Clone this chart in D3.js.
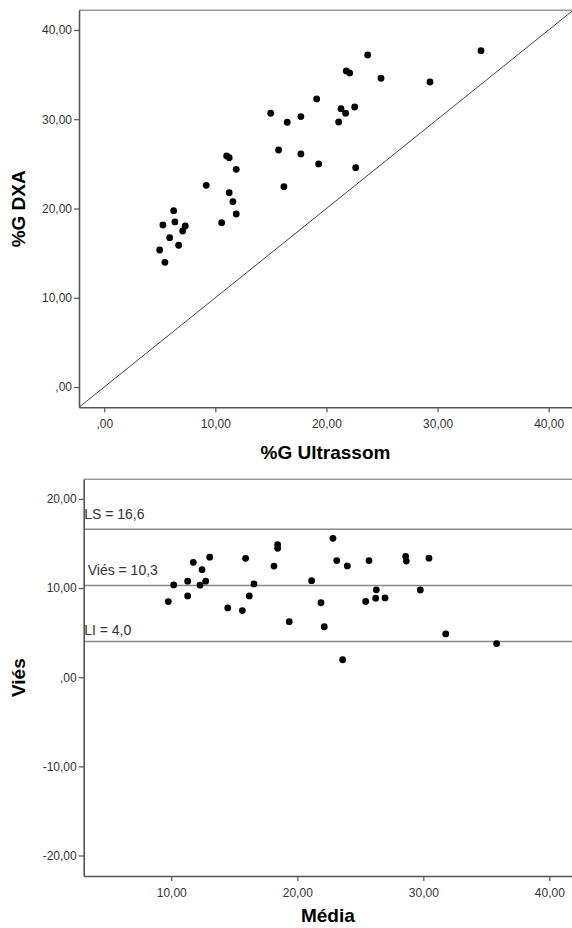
<!DOCTYPE html>
<html>
<head>
<meta charset="utf-8">
<script src="https://cdn.jsdelivr.net/npm/d3@7"></script>
<style>
  body { margin: 0; background: #fff; }
  svg text { font-family: "Liberation Sans", Arial, sans-serif; }
</style>
</head>
<body>
<div id="canvas"></div>
<script>
// %G Ultrassom vs %G DXA (top scatter)
const ultrassom = [14.98, 16.47, 15.69, 16.17, 11.02, 11.25, 11.88, 9.18, 11.25, 11.58, 11.88, 10.57,
  6.25, 5.28, 6.36, 7.29, 7.06, 5.89, 4.99, 6.70, 5.46, 23.71, 33.91, 21.78, 22.09, 24.91, 29.32,
  19.12, 21.31, 21.73, 22.54, 21.10, 17.70, 17.70, 19.30, 22.63];
const dxa = [30.67, 29.66, 26.55, 22.44, 25.88, 25.69, 24.39, 22.60, 21.77, 20.76, 19.38, 18.41,
  19.75, 18.15, 18.49, 18.04, 17.48, 16.73, 15.35, 15.88, 13.97, 37.20, 37.68, 35.41, 35.18, 34.59, 34.17,
  32.27, 31.18, 30.67, 31.37, 29.69, 30.29, 26.11, 24.99, 24.57];

// Bland-Altman (bottom scatter)
const media = [9.76, 10.19, 11.30, 11.30, 11.75, 12.44, 12.28, 12.73, 13.05, 14.48, 15.64, 15.90,
  16.19, 16.56, 18.15, 18.44, 18.44, 19.36, 21.14, 21.88, 22.14, 22.83, 23.13, 23.97, 23.60, 25.69,
  25.43, 26.22, 26.27, 26.96, 28.60, 28.65, 29.76, 30.45, 31.78, 35.82];
const vies = [8.48, 10.35, 10.77, 9.12, 12.89, 12.06, 10.32, 10.77, 13.46, 7.77, 7.47, 13.34,
  9.12, 10.46, 12.47, 14.86, 14.46, 6.23, 10.83, 8.35, 5.66, 15.58, 13.08, 12.48, 1.96, 13.08,
  8.49, 8.86, 9.80, 8.89, 13.56, 13.03, 9.78, 13.35, 4.85, 3.77];

const refValues = [16.6, 10.3, 4.0];
const refLabels = ["LS = 16,6", "Viés = 10,3", "LI = 4,0"];

const topTicks = [0, 10, 20, 30, 40];
const bottomXTicks = [10, 20, 30, 40];
const bottomYTicks = [-20, -10, 0, 10, 20];

const width = 572;
const height = 928;
const axisColor = "#555";
const textColor = "#333";

// SPSS style numbers: 10,00  ,00  -10,00
const fmt = d => {
  let s = Math.abs(d).toFixed(2).replace(".", ",");
  if (s.startsWith("0,")) s = s.slice(1);
  return (d < 0 ? "-" : "") + s;
};

const svg = d3.select("#canvas").append("svg")
  .attr("width", width)
  .attr("height", height);

function drawAxes(g, x, y, xTicks, yTicks) {
  const [x0, x1] = x.range();
  const [yb, yt] = y.range();

  // top frame line (lighter)
  g.append("line")
    .attr("x1", x0).attr("x2", x1)
    .attr("y1", yt).attr("y2", yt)
    .attr("stroke", "#999").attr("stroke-width", 1.5);

  const xa = g.append("g")
    .attr("transform", `translate(0,${yb})`)
    .call(d3.axisBottom(x).tickValues(xTicks).tickFormat(fmt).tickSize(5).tickSizeOuter(0).tickPadding(7));
  const ya = g.append("g")
    .attr("transform", `translate(${x0},0)`)
    .call(d3.axisLeft(y).tickValues(yTicks).tickFormat(fmt).tickSize(5).tickSizeOuter(0).tickPadding(2));

  [xa, ya].forEach(a => {
    a.select(".domain").attr("stroke", axisColor).attr("stroke-width", 1.6);
    a.selectAll(".tick line").attr("stroke", axisColor).attr("stroke-width", 1.2);
    a.selectAll(".tick text")
      .attr("fill", textColor)
      .style("font-size", "12px");
  });
}

function axisTitle(text, tx, ty, rotate) {
  svg.append("text")
    .attr("transform", `translate(${tx},${ty})` + (rotate ? " rotate(-90)" : ""))
    .attr("text-anchor", "middle")
    .attr("font-weight", "bold")
    .style("font-size", "19px")
    .attr("fill", "#000")
    .text(text);
}

// ---------- top plot ----------
const x1 = d3.scaleLinear().domain([-2.27, 42.1]).range([79, 572]);
const y1 = d3.scaleLinear().domain([-2.27, 42.2]).range([407.3, 10.3]);

const g1 = svg.append("g");

g1.append("clipPath").attr("id", "clipTop")
  .append("rect")
  .attr("x", x1.range()[0]).attr("y", y1.range()[1])
  .attr("width", x1.range()[1] - x1.range()[0])
  .attr("height", y1.range()[0] - y1.range()[1]);

// identity line
const dmin = d3.min([x1.domain()[0], y1.domain()[0]]);
const dmax = d3.max([x1.domain()[1], y1.domain()[1]]);
g1.append("line")
  .attr("clip-path", "url(#clipTop)")
  .attr("x1", x1(dmin)).attr("y1", y1(dmin))
  .attr("x2", x1(dmax)).attr("y2", y1(dmax))
  .attr("stroke", "#444").attr("stroke-width", 1);

drawAxes(g1, x1, y1, topTicks, topTicks);

g1.selectAll("circle").data(ultrassom).enter().append("circle")
  .attr("cx", d => x1(d))
  .attr("cy", (d, i) => y1(dxa[i]))
  .attr("r", 3.4)
  .attr("fill", "#000");

axisTitle("%G Ultrassom", (x1.range()[0] + x1.range()[1]) / 2, 459, false);
axisTitle("%G DXA", 25, (y1.range()[0] + y1.range()[1]) / 2, true);

// ---------- bottom plot ----------
const x2 = d3.scaleLinear().domain([3.05, 41.8]).range([83.7, 572]);
const y2 = d3.scaleLinear().domain([-22.3, 22.2]).range([876, 479.3]);

const g2 = svg.append("g");

// limits of agreement + mean
g2.selectAll(".ref").data(refValues).enter().append("line")
  .attr("class", "ref")
  .attr("x1", x2.range()[0]).attr("x2", x2.range()[1])
  .attr("y1", d => y2(d)).attr("y2", d => y2(d))
  .attr("stroke", "#888").attr("stroke-width", 1.5);

g2.selectAll(".refLabel").data(refValues).enter().append("text")
  .attr("class", "refLabel")
  .attr("x", (d, i) => x2.range()[0] + (i === 1 ? 4 : 0.5))
  .attr("y", (d, i) => y2(d) - (i === 2 ? 7 : 10))
  .attr("fill", textColor)
  .style("font-size", "14px")
  .text((d, i) => refLabels[i]);

drawAxes(g2, x2, y2, bottomXTicks, bottomYTicks);

g2.selectAll("circle").data(media).enter().append("circle")
  .attr("cx", d => x2(d))
  .attr("cy", (d, i) => y2(vies[i]))
  .attr("r", 3.4)
  .attr("fill", "#000");

axisTitle("Média", (x2.range()[0] + x2.range()[1]) / 2, 922, false);
axisTitle("Viés", 25, (y2.range()[0] + y2.range()[1]) / 2, true);
</script>
</body>
</html>
